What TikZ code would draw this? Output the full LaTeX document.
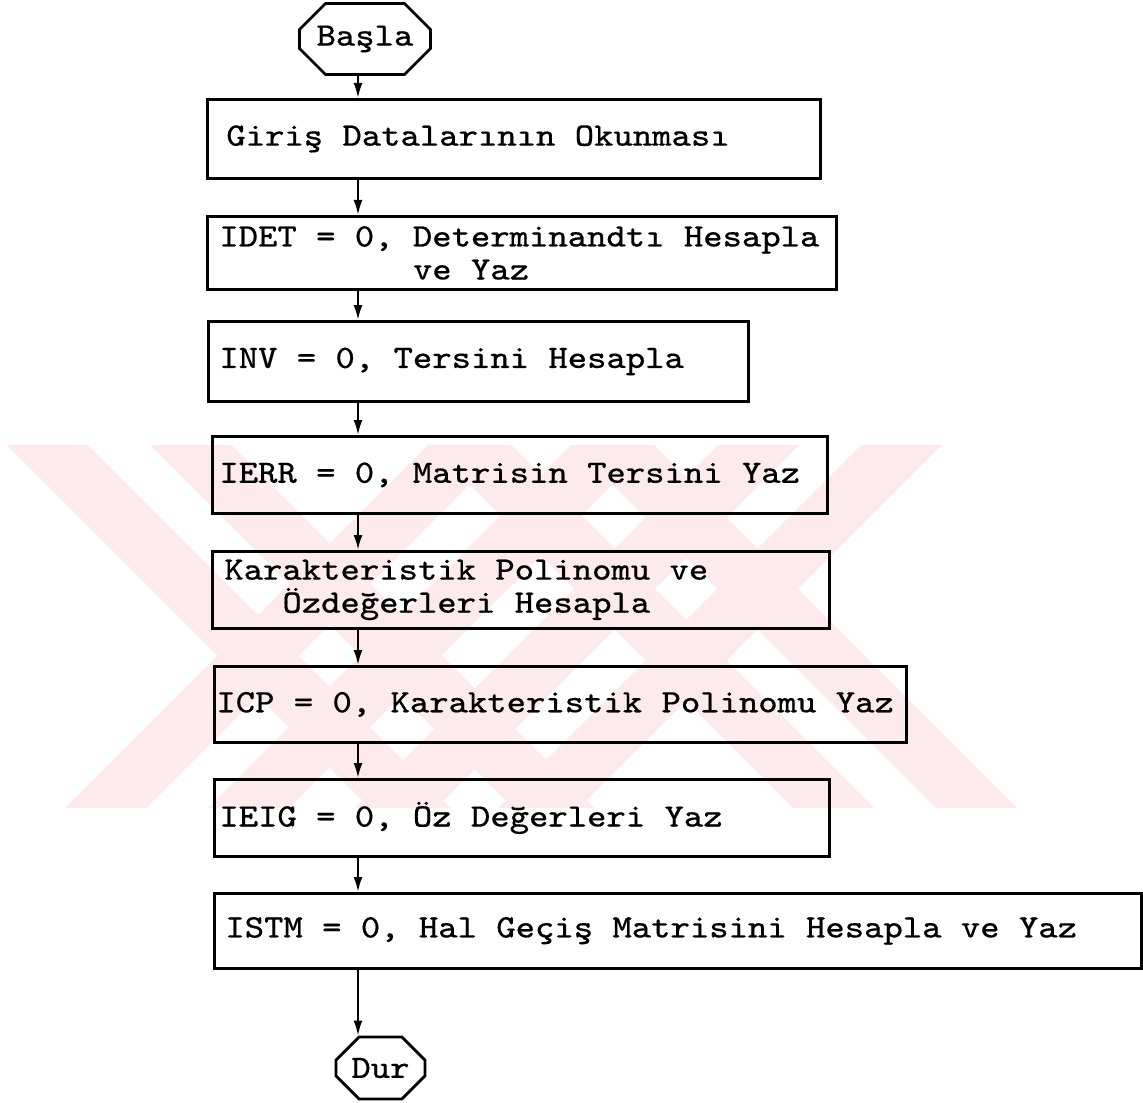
\documentclass[tikz,border=0pt]{standalone}
\usepackage{fontspec}
\newfontfamily\typefont[FakeStretch=1.128, FakeBold=0.4]{Latin Modern Mono}
\newcommand{\typesize}{\fontsize{9.3pt}{9.4pt}\selectfont}
\newcommand{\typespace}{\spaceskip=0.5922em\xspaceskip=0.5922em\relax}
\usetikzlibrary{shapes.misc, positioning, arrows.meta, calc}
\definecolor{markpink}{RGB}{253,234,237}

\begin{document}
\begin{tikzpicture}[
    line width=0.8pt,
    terminal/.style={draw, chamfered rectangle, chamfered rectangle xsep=0.13cm, chamfered rectangle ysep=0.13cm, inner sep=0pt, align=center, font=\typefont\typesize},
    process/.style={draw, rectangle, anchor=north west, align=left, inner ysep=0pt, font=\typefont\typesize, execute at begin node=\typespace},
    flow/.style={-{Latex[length=1.5mm,width=0.9mm]}, line width=0.6pt},
    stripe/.style={fill=markpink, draw=none}
]
    \useasboundingbox (0,0) rectangle (11.43,-11.03);

    % Watermark
    \begin{scope}
        \clip (0,-4.45) rectangle (11.43,-8.08);
        \foreach \a in {0.07, 1.50, 4.30, 5.73}
            \fill[stripe] (\a,-4.45) -- ++(0.81,0) -- ++(3.63,-3.63) -- ++(-0.81,0) -- cycle;
        \foreach \b in {0.65, 2.08, 3.55, 4.98}
            \fill[stripe] (\b,-8.08) -- ++(0.81,0) -- ++(3.63,3.63) -- ++(-0.81,0) -- cycle;
    \end{scope}

    % Start
    \node[terminal, minimum width=1.31cm, minimum height=0.71cm] (start) at (3.65,-0.39) {Başla};

    % Steps
    \node[process, minimum height=0.79cm, text width=5.75cm, inner xsep=0.19cm] (read) at (2.06,-0.98) {Giriş Datalarının Okunması};
    \node[process, minimum height=0.73cm, text width=6.05cm, inner xsep=0.12cm] (det) at (2.06,-2.15) {IDET = 0, Determinandtı Hesapla\\\hspace*{5.922em}ve Yaz};
    \node[process, minimum height=0.80cm, text width=5.18cm, inner xsep=0.11cm] (inv) at (2.07,-3.20) {INV = 0, Tersini Hesapla};
    \node[process, minimum height=0.77cm, text width=6.01cm, inner xsep=0.07cm] (err) at (2.11,-4.35) {IERR = 0, Matrisin Tersini Yaz};
    \node[process, minimum height=0.77cm, text width=5.93cm, inner xsep=0.12cm] (poly) at (2.11,-5.50) {Karakteristik Polinomu ve\\\hspace*{1.777em}Özdeğerleri Hesapla};
    \node[process, minimum height=0.76cm, text width=6.88cm, inner xsep=0.02cm] (icp) at (2.13,-6.65) {ICP = 0, Karakteristik Polinomu Yaz};
    \node[process, minimum height=0.77cm, text width=6.05cm, inner xsep=0.05cm] (eig) at (2.13,-7.78) {IEIG = 0, Öz Değerleri Yaz};
    \node[process, minimum height=0.75cm, text width=9.05cm, inner xsep=0.11cm] (stm) at (2.13,-8.92) {ISTM = 0, Hal Geçiş Matrisini Hesapla ve Yaz};

    % End
    \node[terminal, minimum width=0.89cm, minimum height=0.62cm] (stop) at (3.805,-10.68) {Dur};

    % Connections
    \coordinate (spine) at (3.58,0);
    \foreach \a/\b in {start/read, read/det, det/inv, inv/err, err/poly, poly/icp, icp/eig, eig/stm, stm/stop}
        \draw[flow] (\a.south -| spine) -- (\b.north -| spine);
\end{tikzpicture}
\end{document}
